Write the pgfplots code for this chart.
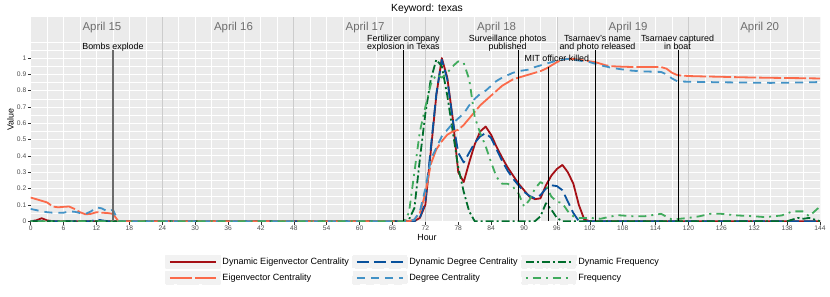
\documentclass[border=0pt]{standalone}
\usepackage{fontspec}
\setmainfont{Liberation Sans}
\usepackage{pgfplots}
\pgfplotsset{compat=1.18}
\definecolor{cDynEig}{HTML}{A50F15}
\definecolor{cEig}{HTML}{FB6A4A}
\definecolor{cDynDeg}{HTML}{08519C}
\definecolor{cDeg}{HTML}{4292C6}
\definecolor{cDynFreq}{HTML}{006D2C}
\definecolor{cFreq}{HTML}{41AB5D}
\definecolor{panel}{HTML}{EBEBEB}
\definecolor{ticklab}{HTML}{4D4D4D}
\definecolor{keybg}{HTML}{F2F2F2}
\definecolor{daylab}{HTML}{6E6E6E}
\newcommand{\legkey}[1]{\fill[keybg] (0bp,-6.3bp) rectangle (54bp,6.3bp); \draw[#1] (4bp,0bp) -- (50bp,0bp);}
\tikzset{
 sDynEig/.style={color=cDynEig, line width=1.8bp, line join=round},
 sEig/.style={color=cEig, line width=1.8bp, line join=round, dash pattern=on 22bp off 3bp},
 sDynDeg/.style={color=cDynDeg, line width=1.8bp, line join=round, dash pattern=on 12bp off 5bp},
 sDeg/.style={color=cDeg, line width=1.8bp, line join=round, dash pattern=on 8bp off 6bp},
 sDynFreq/.style={color=cDynFreq, line width=1.8bp, line join=round, dash pattern=on 8bp off 3bp on 2bp off 3bp},
 sFreq/.style={color=cFreq, line width=1.8bp, line join=round, dash pattern=on 2bp off 5bp on 8bp off 5bp},
}
\begin{document}
\begin{tikzpicture}
\path[use as bounding box] (0bp,0bp) rectangle (830bp,297bp);
\begin{axis}[
 at={(30.7bp,75bp)}, anchor=south west,
 scale only axis, width=789.3bp, height=204.7bp,
 xmin=0, xmax=144, ymin=-0.005, ymax=1.25,
 axis background/.style={fill=panel},
 axis line style={draw=none},
 xtick={0,6,...,144},
 ytick={0,0.1,0.2,0.3,0.4,0.5,0.6,0.7,0.8,0.9,1},
 yticklabels={0,0.1,0.2,0.3,0.4,0.5,0.6,0.7,0.8,0.9,1},
 minor xtick={3,9,...,141},
 minor ytick={0.05,0.15,0.25,0.35,0.45,0.55,0.65,0.75,0.85,0.95,1.05,1.1},
 grid=both,
 major grid style={white, line width=0.9bp},
 minor grid style={white, line width=0.45bp},
 tick align=outside, tick pos=left,
 major tick length=2.75bp, minor tick length=0pt,
 tick style={color=black!80, line width=0.5bp},
 ticklabel style={font=\fontsize{6.7}{7}\selectfont, text=ticklab},
 xticklabel style={inner sep=1bp},
 yticklabel style={inner sep=1.5bp},
 /pgf/number format/assume math mode=true,
 legend style={at={(0.170,-0.158)}, anchor=north west, draw=none, fill=none,
   font=\fontsize{9.1}{10}\selectfont, inner sep=0pt, row sep=1.6bp,
   nodes={inner xsep=1.6bp, inner ysep=0.5bp},
   /tikz/every even column/.append style={column sep=1.5bp}},
 legend columns=3,
 legend cell align=left,
]
% day separators
\addplot[forget plot, color=black!20, line width=0.8bp] coordinates {(24,-0.005) (24,1.25)};
\addplot[forget plot, color=black!20, line width=0.8bp] coordinates {(48,-0.005) (48,1.25)};
\addplot[forget plot, color=black!20, line width=0.8bp] coordinates {(72,-0.005) (72,1.25)};
\addplot[forget plot, color=black!20, line width=0.8bp] coordinates {(96,-0.005) (96,1.25)};
\addplot[forget plot, color=black!20, line width=0.8bp] coordinates {(120,-0.005) (120,1.25)};
\addplot[forget plot, color=black!20, line width=0.8bp] coordinates {(144,-0.005) (144,1.25)};

% Dynamic Eigenvector Centrality
\addplot[sDynEig, legend image code/.code={\legkey{sDynEig}}] coordinates {(0,0) (1,0.005) (2,0.018) (3,0.005) (4,0) (70,0) (71,0.02) (72,0.10) (73,0.43) (74,0.77) (75,1.0) (76,0.88) (77,0.63) (78,0.30) (79,0.24) (80,0.36) (81,0.47) (82,0.55) (83,0.58) (84,0.53) (85,0.455) (86,0.39) (87,0.33) (88,0.28) (89,0.23) (90,0.19) (91,0.15) (92,0.135) (93,0.14) (94,0.22) (95,0.28) (96,0.32) (97,0.345) (98,0.30) (99,0.23) (100,0.10) (101,0.01) (102,0) (144,0)};
\addlegendentry{Dynamic Eigenvector Centrality}
% Dynamic Degree Centrality
\addplot[sDynDeg, legend image code/.code={\legkey{sDynDeg}}] coordinates {(0,0) (11,0) (12,0.01) (13,0.005) (14,0) (70,0) (71,0.02) (72,0.12) (73,0.45) (74,0.78) (75,0.99) (76,0.87) (77,0.62) (78,0.42) (79,0.36) (80,0.42) (81,0.48) (82,0.52) (83,0.54) (84,0.51) (85,0.44) (86,0.37) (87,0.31) (88,0.26) (89,0.22) (90,0.18) (91,0.155) (92,0.14) (93,0.16) (94,0.20) (95,0.22) (96,0.215) (97,0.19) (98,0.12) (99,0.05) (100,0) (144,0)};
\addlegendentry{Dynamic Degree Centrality}
% Dynamic Frequency
\addplot[sDynFreq, legend image code/.code={\legkey{sDynFreq}}] coordinates {(0,0) (68,0) (69,0.01) (70,0.08) (71,0.38) (72,0.66) (73,0.87) (74,0.99) (75,0.95) (76,0.77) (77,0.55) (78,0.33) (79,0.18) (80,0.06) (81,0) (92,0) (93,0.03) (94,0.11) (95,0.07) (96,0.02) (97,0) (138,0) (139,0.01) (140,0.02) (141,0.015) (142,0.02) (143,0.01) (144,0)};
\addlegendentry{Dynamic Frequency}
% Eigenvector Centrality
\addplot[sEig, legend image code/.code={\legkey{sEig}}] coordinates {(0,0.145) (1,0.135) (2,0.125) (3,0.115) (4,0.09) (5,0.085) (6,0.088) (7,0.09) (8,0.075) (9,0.055) (10,0.042) (11,0.045) (12,0.055) (13,0.052) (14,0.05) (15,0.045) (16,0) (69,0) (70,0.01) (71,0.05) (72,0.17) (73,0.35) (74,0.44) (75,0.49) (76,0.53) (77,0.55) (78,0.56) (79,0.59) (80,0.63) (81,0.67) (82,0.71) (83,0.74) (84,0.77) (85,0.80) (86,0.83) (87,0.85) (88,0.87) (89,0.88) (90,0.89) (91,0.90) (92,0.91) (93,0.92) (94,0.935) (95,0.955) (96,0.975) (97,0.99) (98,0.995) (99,0.995) (100,0.99) (101,0.985) (102,0.98) (103,0.975) (104,0.965) (105,0.955) (106,0.95) (108,0.947) (110,0.945) (115,0.945) (116,0.935) (117,0.91) (118,0.895) (120,0.89) (122,0.888) (125,0.886) (130,0.882) (135,0.879) (140,0.877) (144,0.875)};
\addlegendentry{Eigenvector Centrality}
% Degree Centrality
\addplot[sDeg, legend image code/.code={\legkey{sDeg}}] coordinates {(0,0.075) (1,0.068) (2,0.06) (3,0.055) (4,0.052) (5,0.052) (6,0.052) (7,0.06) (8,0.058) (9,0.05) (10,0.045) (11,0.06) (12,0.085) (13,0.078) (14,0.06) (15,0.07) (16,0) (69,0) (70,0.01) (71,0.06) (72,0.20) (73,0.38) (74,0.45) (75,0.52) (76,0.56) (77,0.60) (78,0.63) (79,0.66) (80,0.71) (81,0.75) (82,0.78) (83,0.80) (84,0.83) (85,0.86) (86,0.88) (87,0.895) (88,0.91) (89,0.92) (90,0.925) (91,0.93) (92,0.945) (93,0.955) (94,0.965) (95,0.975) (96,0.985) (97,0.99) (98,0.995) (99,0.99) (100,0.985) (101,0.98) (102,0.975) (103,0.965) (104,0.955) (105,0.948) (106,0.94) (107,0.935) (108,0.93) (109,0.925) (110,0.922) (112,0.918) (115,0.915) (116,0.90) (117,0.875) (118,0.857) (120,0.855) (125,0.852) (130,0.85) (135,0.848) (140,0.85) (144,0.853)};
\addlegendentry{Degree Centrality}
% Frequency
\addplot[sFreq, legend image code/.code={\legkey{sFreq}}] coordinates {(0,0) (68,0) (69,0.05) (70,0.30) (71,0.55) (72,0.70) (73,0.84) (74,0.90) (75,0.88) (76,0.91) (77,0.95) (78,0.98) (79,0.97) (80,0.87) (81,0.64) (82,0.54) (83,0.46) (84,0.36) (85,0.27) (86,0.23) (87,0.23) (88,0.21) (89,0.17) (90,0.09) (91,0.13) (92,0.20) (93,0.24) (94,0.22) (95,0.15) (96,0.12) (97,0.11) (98,0.06) (99,0.03) (100,0.02) (102,0.02) (104,0.015) (107,0.037) (110,0.03) (112,0.03) (115,0.045) (117,0.01) (120,0.02) (122,0.03) (124,0.045) (126,0.045) (129,0.035) (132,0.03) (134,0.025) (137,0.035) (139,0.06) (141,0.06) (142,0.03) (144,0.09)};
\addlegendentry{Frequency}

% event lines
\addplot[forget plot, color=black!58, line width=1.6bp] coordinates {(15,0) (15,1.047)};
\addplot[forget plot, black, line width=0.9bp] coordinates {(68,0) (68,1.047)};
\addplot[forget plot, black, line width=0.9bp] coordinates {(89,0) (89,1.047)};
\addplot[forget plot, black, line width=0.9bp] coordinates {(94.5,0) (94.5,0.945)};
\addplot[forget plot, black, line width=0.9bp] coordinates {(103,0) (103,1.047)};
\addplot[forget plot, black, line width=0.9bp] coordinates {(118.1,0) (118.1,1.047)};

% day labels
\node[anchor=base, text=daylab, font=\fontsize{11.5}{12}\selectfont] at (axis cs:13,1.169) {April 15};
\node[anchor=base, text=daylab, font=\fontsize{11.5}{12}\selectfont] at (axis cs:37,1.169) {April 16};
\node[anchor=base, text=daylab, font=\fontsize{11.5}{12}\selectfont] at (axis cs:61,1.169) {April 17};
\node[anchor=base, text=daylab, font=\fontsize{11.5}{12}\selectfont] at (axis cs:85,1.169) {April 18};
\node[anchor=base, text=daylab, font=\fontsize{11.5}{12}\selectfont] at (axis cs:109,1.169) {April 19};
\node[anchor=base, text=daylab, font=\fontsize{11.5}{12}\selectfont] at (axis cs:133,1.169) {April 20};
% annotations
\node[anchor=base, inner sep=0pt, font=\fontsize{8.9}{9}\selectfont] at (axis cs:15,1.053) {Bombs explode};
\node[anchor=base, inner sep=0pt, font=\fontsize{8.9}{9}\selectfont] at (axis cs:68,1.104) {Fertilizer company};
\node[anchor=base, inner sep=0pt, font=\fontsize{8.9}{9}\selectfont] at (axis cs:68,1.053) {explosion in Texas};
\node[anchor=base, inner sep=0pt, font=\fontsize{8.9}{9}\selectfont] at (axis cs:87,1.104) {Surveillance photos};
\node[anchor=base, inner sep=0pt, font=\fontsize{8.9}{9}\selectfont] at (axis cs:87,1.053) {published};
\node[anchor=base, inner sep=0pt, font=\fontsize{8.9}{9}\selectfont] at (axis cs:96,0.981) {MIT officer killed};
\node[anchor=base, inner sep=0pt, font=\fontsize{8.9}{9}\selectfont] at (axis cs:103.4,1.104) {Tsarnaev's name};
\node[anchor=base, inner sep=0pt, font=\fontsize{8.9}{9}\selectfont] at (axis cs:103.4,1.053) {and photo released};
\node[anchor=base, inner sep=0pt, font=\fontsize{8.9}{9}\selectfont] at (axis cs:118,1.104) {Tsarnaev captured};
\node[anchor=base, inner sep=0pt, font=\fontsize{8.9}{9}\selectfont] at (axis cs:118,1.053) {in boat};
\end{axis}
\node[anchor=base, font=\fontsize{10.4}{11}\selectfont] at (427bp,285bp) {Keyword: texas};
\node[anchor=base, font=\fontsize{8.9}{9}\selectfont] at (427bp,56bp) {Hour};
\node[rotate=90, font=\fontsize{8.9}{9}\selectfont] at (10.5bp,177.4bp) {Value};
\end{tikzpicture}
\end{document}
